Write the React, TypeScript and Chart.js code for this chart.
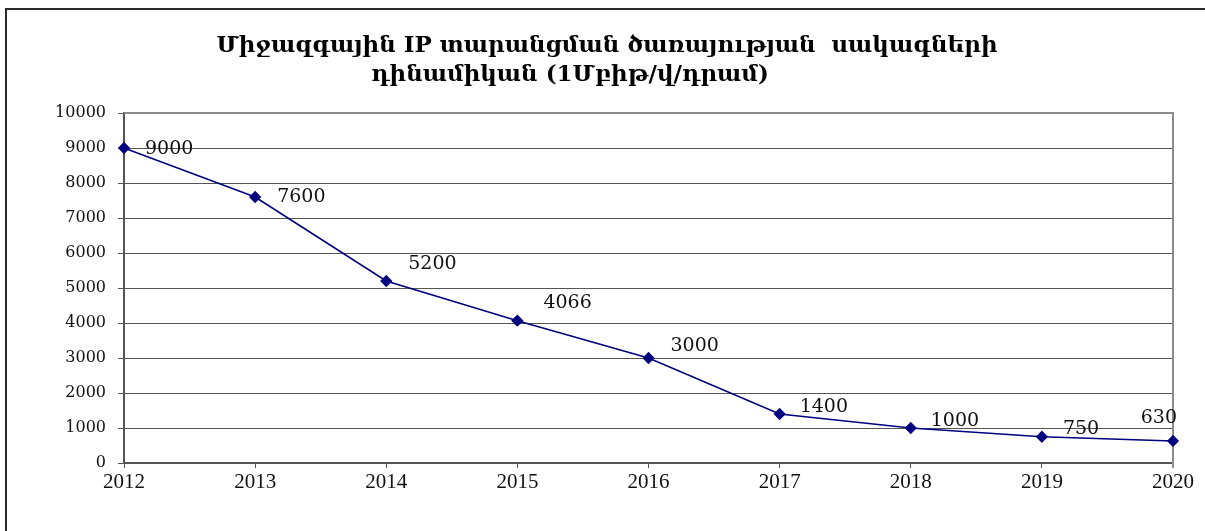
import React, { useEffect, useRef } from "react";
import { Chart, registerables } from "chart.js";

Chart.register(...registerables);

const titleLines = [
  "Միջազգային IP տարանցման ծառայության  սակագների",
  "դինամիկան (1Մբիթ/վ/դրամ)",
];
const years = ["2012", "2013", "2014", "2015", "2016", "2017", "2018", "2019", "2020"];
const tariffs = [9000, 7600, 5200, 4066, 3000, 1400, 1000, 750, 630];
const yMin = 0;
const yMax = 10000;
const yStep = 1000;

// label nudges relative to each point (annotation styling)
const labelDx = [21, 22, 22, 26, 22, 20, 20, 21, 4];
const labelDy = [1, 0, -17, -18, -12, -7, -7, -8, -23];
const labelAlign: CanvasTextAlign[] = ["left", "left", "left", "left", "left", "left", "left", "left", "right"];

const W = 1205;
const H = 531;

const framePlugin = {
  id: "frame",
  beforeDraw(chart: any) {
    const ctx = chart.ctx;
    ctx.save();
    ctx.fillStyle = "#ffffff";
    ctx.fillRect(0, 0, chart.width, chart.height);
    ctx.strokeStyle = "#2b2b2b";
    ctx.lineWidth = 2;
    ctx.beginPath();
    ctx.moveTo(6, chart.height);
    ctx.lineTo(6, 9);
    ctx.lineTo(chart.width + 2, 9);
    ctx.stroke();
    ctx.restore();
  },
  beforeDatasetsDraw(chart: any) {
    const { ctx, chartArea } = chart;
    ctx.save();
    ctx.strokeStyle = "#8c8c8c";
    ctx.lineWidth = 2;
    ctx.beginPath();
    ctx.moveTo(chartArea.left, chartArea.top);
    ctx.lineTo(chartArea.right, chartArea.top);
    ctx.lineTo(chartArea.right, chartArea.bottom + 5);
    ctx.stroke();
    ctx.restore();
  },
  afterDraw(chart: any) {
    const ctx = chart.ctx;
    ctx.save();
    ctx.fillStyle = "#000000";
    ctx.textAlign = "center";
    ctx.textBaseline = "alphabetic";
    ctx.font = "bold 23px 'DejaVu Serif'";
    ctx.fillText(titleLines[0], 607, 52);
    ctx.fillText(titleLines[1], 570, 81);
    ctx.restore();
  },
};

const labelPlugin = {
  id: "pointLabels",
  afterDatasetsDraw(chart: any) {
    const ctx = chart.ctx;
    const meta = chart.getDatasetMeta(0);
    ctx.save();
    ctx.fillStyle = "#111111";
    ctx.font = "19px 'DejaVu Serif'";
    ctx.textBaseline = "middle";
    meta.data.forEach((pt: any, i: number) => {
      ctx.textAlign = labelAlign[i];
      ctx.fillText(String(tariffs[i]), pt.x + labelDx[i], pt.y + labelDy[i]);
    });
    ctx.restore();
  },
};

export default function App() {
  const ref = useRef<HTMLCanvasElement | null>(null);

  useEffect(() => {
    if (!ref.current) return;
    const chart = new Chart(ref.current, {
      type: "line",
      data: {
        labels: years,
        datasets: [
          {
            data: tariffs,
            borderColor: "#00007f",
            backgroundColor: "#00007f",
            borderWidth: 1.6,
            pointStyle: "rectRot",
            pointRadius: 5,
            pointHoverRadius: 5,
            pointBackgroundColor: "#00007f",
            pointBorderColor: "#00007f",
            tension: 0,
            fill: false,
          },
        ],
      },
      options: {
        responsive: false,
        animation: false,
        events: [],
        layout: { padding: { top: 113, right: 32, bottom: 0, left: 0 } },
        plugins: {
          legend: { display: false },
          title: { display: false },
          tooltip: { enabled: false },
        },
        scales: {
          x: {
            offset: false,
            afterFit(scale: any) {
              scale.height = 68;
            },
            grid: {
              drawOnChartArea: false,
              drawTicks: true,
              tickLength: 5,
              color: "#555555",
              lineWidth: 1,
            },
            border: { display: true, color: "#555555", width: 2 },
            ticks: {
              color: "#111111",
              font: { family: "'Liberation Serif'", size: 21 },
              padding: 2,
              maxRotation: 0,
              autoSkip: false,
            },
          },
          y: {
            min: yMin,
            max: yMax,
            afterFit(scale: any) {
              scale.width = 124;
            },
            grid: {
              color: "#555555",
              lineWidth: 1,
              drawTicks: true,
              tickLength: 6,
            },
            border: { display: true, color: "#555555", width: 2 },
            ticks: {
              stepSize: yStep,
              color: "#111111",
              font: { family: "'DejaVu Serif'", size: 16 },
              padding: 12,
              callback: (v: any) => String(v),
            },
          },
        },
      },
      plugins: [framePlugin, labelPlugin],
    });
    return () => chart.destroy();
  }, []);

  return (
    <div style={{ position: "fixed", left: 0, top: 0, width: W, height: H, background: "#fff" }}>
      <canvas ref={ref} width={W} height={H} style={{ width: W, height: H, display: "block" }} />
    </div>
  );
}
